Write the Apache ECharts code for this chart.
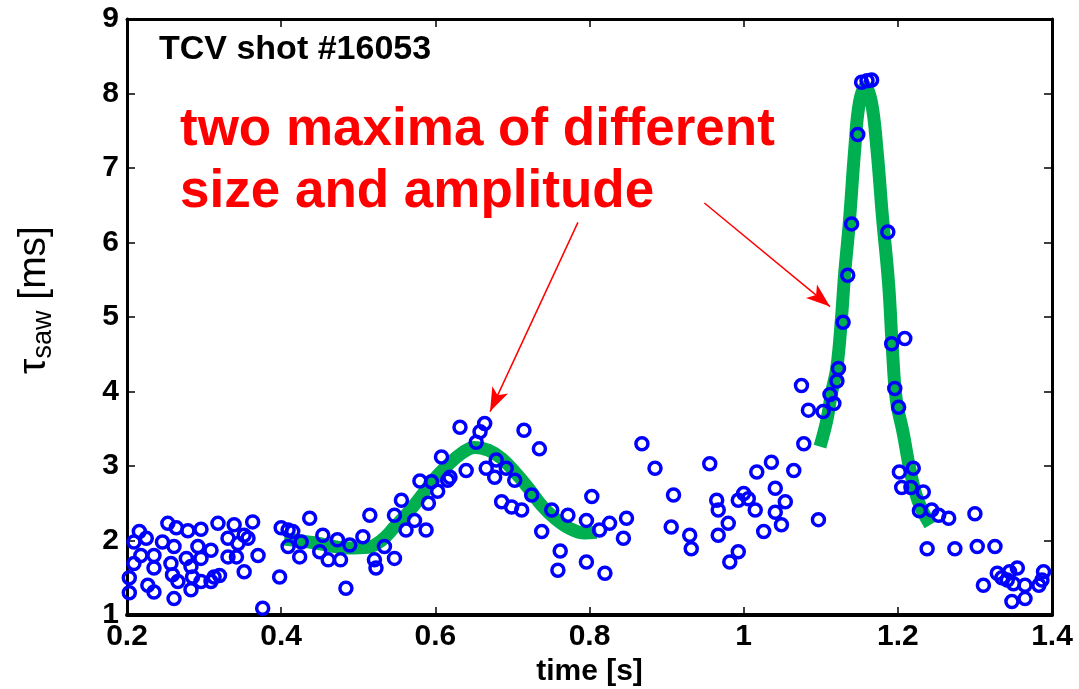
<!DOCTYPE html>
<html>
<head>
<meta charset="utf-8">
<script src="https://cdn.jsdelivr.net/npm/echarts@6/dist/echarts.min.js"></script>
<style>html,body{margin:0;padding:0;background:#fff}#c{width:1079px;height:689px}</style>
</head>
<body>
<div id="c"></div>
<script>
// ---- data ----
const xTicks = ['0.2','0.4','0.6','0.8','1','1.2','1.4'];
const yTicks = ['1','2','3','4','5','6','7','8','9'];
const title = 'TCV shot #16053';
const noteLines = ['two maxima of different', 'size and amplitude'];
const xName = 'time [s]';

// measured sawtooth periods (time [s], tau_saw [ms])
const sawPoints = [
  [0.253,2.23],[0.264,2.17],[0.279,2.13],[0.296,2.15],[0.318,2.23],[0.339,2.21],[0.363,2.25],[0.352,2.07],
  [0.400,2.17],[0.415,2.12],[0.216,2.12],[0.225,2.03],[0.209,1.98],[0.246,1.98],[0.261,1.92],[0.292,1.92],
  [0.309,1.87],[0.331,2.03],[0.344,1.96],[0.357,2.03],[0.370,1.80],[0.331,1.78],[0.342,1.78],[0.218,1.80],
  [0.235,1.80],[0.277,1.76],[0.296,1.76],[0.209,1.69],[0.235,1.63],[0.257,1.69],[0.283,1.65],[0.259,1.54],
  [0.352,1.58],[0.398,1.51],[0.203,1.50],[0.227,1.40],[0.235,1.31],[0.285,1.51],[0.296,1.45],[0.313,1.51],
  [0.283,1.34],[0.203,1.30],[0.261,1.22],[0.309,1.45],[0.320,1.53],[0.376,1.09],[0.266,1.45],
  [0.437,2.30],[0.409,2.14],[0.426,1.98],[0.409,1.92],[0.424,1.78],[0.454,2.07],[0.473,2.01],[0.450,1.85],
  [0.461,1.74],[0.477,1.74],[0.489,1.94],[0.506,2.05],[0.515,2.34],[0.484,1.36],[0.521,1.74],[0.523,1.63],
  [0.534,1.92],[0.547,1.76],[0.547,2.34],[0.556,2.54],[0.562,2.14],[0.573,2.27],[0.588,2.14],[0.591,2.50],
  [0.603,2.66],[0.580,2.80],[0.616,2.81],
  [0.632,3.52],[0.664,3.57],[0.658,3.46],[0.653,3.32],[0.715,3.48],[0.735,3.23],[0.608,3.12],[0.640,2.94],
  [0.666,2.97],[0.679,3.08],[0.692,2.97],[0.677,2.85],[0.703,2.81],[0.619,2.85],[0.595,2.79],[0.725,2.61],
  [0.686,2.52],[0.699,2.45],[0.712,2.41],[0.751,2.41],[0.772,2.34],[0.796,2.27],[0.803,2.59],[0.738,2.12],
  [0.762,1.86],
  [0.868,3.30],[0.885,2.97],[0.813,2.14],[0.826,2.23],[0.848,2.30],[0.844,2.03],[0.759,1.60],[0.796,1.71],
  [0.820,1.56],
  [0.909,2.61],[0.906,2.18],[0.930,2.07],[0.932,1.89],[0.956,3.03],[0.965,2.54],[0.967,2.41],[0.980,2.23],
  [0.967,2.07],[0.993,1.85],[0.982,1.71],[1.000,2.63],[1.006,2.56],[0.993,2.54],[1.017,2.92],[1.036,3.05],
  [1.015,2.41],[1.026,2.12],[1.041,2.70],[1.054,2.52],[1.041,2.38],[1.049,2.21],[1.065,2.94],[1.078,3.30],
  [1.084,3.75],[1.075,4.08],[1.097,2.28],[1.103,3.73],
  [1.123,4.31],[1.121,4.14],[1.112,3.96],[1.117,3.84],[1.153,8.15],[1.160,8.17],[1.166,8.18],[1.148,7.45],
  [1.140,6.25],[1.135,5.56],[1.129,4.93],[1.187,6.14],[1.209,4.71],[1.192,4.64],[1.196,4.04],[1.201,3.79],
  [1.202,2.92],[1.220,2.97],[1.205,2.71],[1.217,2.71],[1.233,2.65],[1.228,2.40],[1.244,2.41],[1.253,2.34],
  [1.266,2.30],[1.300,2.36],[1.238,1.89],[1.274,1.89],[1.303,1.92],[1.326,1.92],
  [1.311,1.40],[1.329,1.56],[1.342,1.47],[1.355,1.63],[1.350,1.42],[1.365,1.40],[1.348,1.18],[1.365,1.22],
  [1.389,1.58],[1.387,1.47],[1.383,1.40],[1.335,1.50],[1.345,1.58]
];

// fitted curves (green)
const fitFirst = [
  [0.404,2.02],[0.443,1.97],[0.487,1.90],[0.513,1.91],[0.530,2.00],[0.547,2.18],[0.565,2.38],[0.582,2.60],
  [0.599,2.83],[0.617,3.02],[0.634,3.17],[0.651,3.25],[0.669,3.21],[0.686,3.10],[0.703,2.92],[0.721,2.70],
  [0.738,2.47],[0.755,2.30],[0.773,2.17],[0.794,2.10],[0.809,2.11]
];
const fitSecond = [
  [1.099,3.26],[1.108,3.62],[1.114,3.98],[1.121,4.33],[1.127,5.00],[1.131,5.58],[1.137,6.26],[1.144,7.24],
  [1.150,7.87],[1.158,8.09],[1.166,7.87],[1.173,7.24],[1.180,6.35],[1.188,5.45],[1.193,4.56],[1.198,3.89],
  [1.207,3.44],[1.215,2.99],[1.226,2.54],[1.242,2.21]
];

// annotation arrows: [start, tip] in data units
const arrows = [
  [[0.785,6.27],[0.671,3.73]],
  [[0.949,6.53],[1.112,5.14]]
];

const FONT = '"Liberation Sans", Arial, sans-serif';
const chart = echarts.init(document.getElementById('c'), null, {renderer:'canvas'});

const baseAxis = {
  type:'value', splitLine:{show:false},
  axisTick:{show:true, inside:true, length:8, lineStyle:{color:'#000', width:1.5}},
  axisLine:{show:true, lineStyle:{color:'#000', width:3}}
};

chart.setOption({
  animation:false,
  backgroundColor:'#fff',
  grid:{left:127, right:27, top:19, bottom:74, containLabel:false, outerBoundsMode:'none'},
  xAxis:[
    Object.assign({}, baseAxis, {
      min:0.2, max:1.4, interval:0.2, position:'bottom',
      axisLine:{show:true, onZero:false, lineStyle:{color:'#000', width:4}},
      axisLabel:{color:'#000', fontFamily:FONT, fontWeight:'bold', fontSize:30, margin:7,
        formatter:(v)=>{const i=Math.round((v-0.2)/0.2); return xTicks[i]!==undefined?xTicks[i]:'';}},
      name:xName, nameLocation:'middle', nameGap:38,
      nameTextStyle:{color:'#000', fontFamily:FONT, fontWeight:'bold', fontSize:30}
    }),
    Object.assign({}, baseAxis, {
      min:0.2, max:1.4, interval:0.2, position:'top',
      axisLine:{show:true, onZero:false, lineStyle:{color:'#000', width:3}},
      axisLabel:{show:false}
    })
  ],
  yAxis:[
    Object.assign({}, baseAxis, {
      min:1, max:9, interval:1, position:'left',
      axisLine:{show:true, onZero:false, lineStyle:{color:'#000', width:3}},
      axisLabel:{color:'#000', fontFamily:FONT, fontWeight:'bold', fontSize:30, margin:8,
        formatter:(v)=>{const i=Math.round(v-1); return yTicks[i]!==undefined?yTicks[i]:'';}},
      name:'{t|τ}{s|saw}{t| [ms]}', nameLocation:'middle', nameRotate:90, nameGap:70,
      nameTextStyle:{color:'#000', fontFamily:FONT, fontSize:39, padding:[0,0,0,34],
        rich:{
          t:{fontFamily:FONT, fontSize:39, color:'#000', lineHeight:46, verticalAlign:'middle'},
          s:{fontFamily:FONT, fontSize:27, color:'#000', lineHeight:46, verticalAlign:'bottom'}
        }}
    }),
    Object.assign({}, baseAxis, {
      min:1, max:9, interval:1, position:'right',
      axisLine:{show:true, onZero:false, lineStyle:{color:'#000', width:3}},
      axisLabel:{show:false}
    })
  ],
  graphic:[
    {type:'text', left:159, top:33, z:100,
      style:{text:title, fontFamily:FONT, fontWeight:'bold', fontSize:34, fill:'#000'}},
    {type:'text', left:180, top:104, z:100,
      style:{text:noteLines[0], fontFamily:FONT, fontWeight:'bold', fontSize:53, fill:'#ff0000'}},
    {type:'text', left:180, top:166, z:100,
      style:{text:noteLines[1], fontFamily:FONT, fontWeight:'bold', fontSize:53, fill:'#ff0000'}}
  ],
  series:[
    {type:'line', data:fitFirst, smooth:0.4, showSymbol:false, symbol:'none', z:2,
      lineStyle:{color:'#00b050', width:13}},
    {type:'line', data:fitSecond, smooth:0.4, showSymbol:false, symbol:'none', z:2,
      lineStyle:{color:'#00b050', width:13}},
    {type:'scatter', data:sawPoints, symbol:'circle', symbolSize:12, z:5,
      itemStyle:{color:'rgba(255,255,255,0)', borderColor:'#0000ff', borderWidth:3.5, opacity:1}},
    {type:'line', data:[], z:6,
      markLine:{silent:true, symbol:['none','arrow'], symbolSize:[13,24], animation:false,
        label:{show:false}, lineStyle:{color:'#ff0000', width:1.5, type:'solid'},
        data:arrows.map(a=>[{coord:a[0]},{coord:a[1]}])}}
  ]
});
</script>
</body>
</html>
